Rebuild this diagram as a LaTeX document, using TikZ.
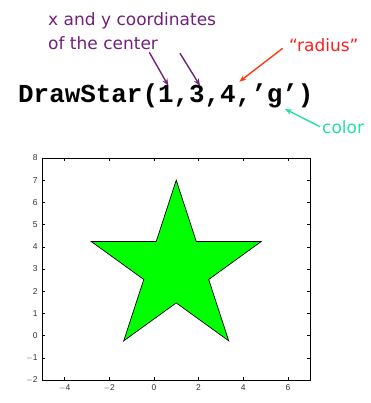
\documentclass[tikz,border=0pt]{standalone}
\usepackage{fontspec}
\setmainfont{DejaVu Sans}
\newfontfamily\codefont{Liberation Mono}
\newfontfamily\tickfont{Liberation Sans}
\usetikzlibrary{arrows.meta}
\definecolor{notePurple}{HTML}{72207A}
\definecolor{noteRed}{HTML}{FF1E1E}
\definecolor{arrowRed}{HTML}{FF3A10}
\definecolor{noteTeal}{HTML}{22E0A8}
\definecolor{starGreen}{HTML}{00FF00}
\definecolor{tickGray}{HTML}{333333}

\begin{document}
\begin{tikzpicture}[x=1pt,y=-1pt,>={Stealth[length=7pt,width=5.5pt]},
    note/.style={font=\fontsize{17}{24}\selectfont,inner sep=0pt,anchor=base west},
    pointer/.style={->,line width=1.4pt},
    ticklabel/.style={font=\tickfont\fontsize{8.5}{9}\selectfont,text=tickGray,inner sep=0pt}]

                \useasboundingbox (0,0) rectangle (370,403);

                % Call
                \node[inner sep=0pt,anchor=base west,font=\codefont\bfseries\fontsize{25.9}{26}\selectfont]
                    (call) at (18,103) {DrawStar(1,3,4,’g’)};

                % Notes
                \node[note,text=notePurple,align=left] (centre) at (48,50) {x and y coordinates\\of the center};
                \node[note,text=noteRed] (radius) at (289,52) {“radius”};
                \node[note,text=noteTeal] (colour) at (322,134) {color};

                % Arrow ends
                \coordinate (xtip) at (168.3,85.7);
                \coordinate (ytip) at (200,85.7);
                \coordinate (rtip) at (239.3,81.7);
                \coordinate (ctip) at (285,109);
                \coordinate (xtail) at (149.3,52.3);
                \coordinate (ytail) at (180,53.3);
                \coordinate (rtail) at (282.7,48.3);
                \coordinate (ctail) at (320,126.7);

                \draw [pointer,notePurple] (xtail) -- (xtip);
                \draw [pointer,notePurple] (ytail) -- (ytip);
                \draw [pointer,arrowRed] (rtail) -- (rtip);
                \draw [pointer,noteTeal] (ctail) -- (ctip);

                % Plot
                \begin{scope}[shift={(153.9,335.6)},x=22.33pt,y=22.2pt]
                    % Star
                    \begin{scope}[shift={(1,3)}]
                        \draw [fill=starGreen,line width=0.7pt,line join=miter]
                            (90:4) \foreach \a in {0,72,...,288} {-- (90+\a:4) -- (126+\a:1.528)} -- cycle;
                    \end{scope}
                    % Ticks
                    \foreach \x in {-4,-2,...,6} {
                        \draw [line width=0.6pt] (\x,-2) -- (\x,-1.86);
                        \draw [line width=0.6pt] (\x,8) -- (\x,7.86);
                        \node[ticklabel,anchor=north] at (\x,-2.2) {\ifnum\x<0 $-$\number-\x\else\x\fi};
                    }
                    \foreach \y in {-2,...,8} {
                        \draw [line width=0.6pt] (-5,\y) -- (-4.86,\y);
                        \draw [line width=0.6pt] (7,\y) -- (6.86,\y);
                        \node[ticklabel,anchor=east] at (-5.2,\y) {\ifnum\y<0 $-$\number-\y\else\y\fi};
                    }
                    % Box
                    \draw [line width=0.9pt] (-5,-2) rectangle (7,8);
                \end{scope}

\end{tikzpicture}
\end{document}
